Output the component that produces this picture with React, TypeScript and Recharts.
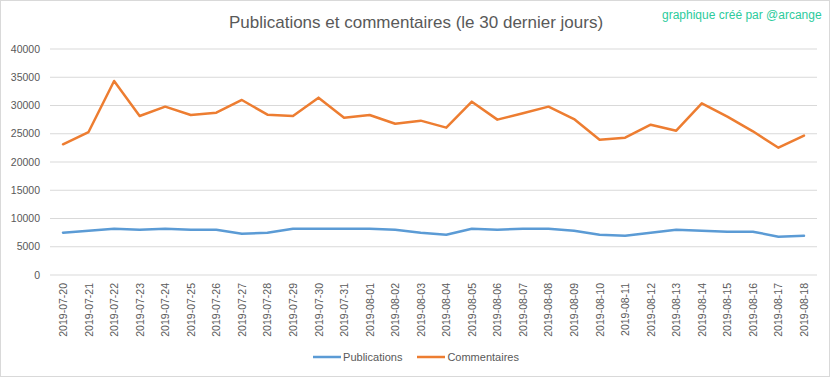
import React from "react";
import { LineChart, Line, XAxis, YAxis, CartesianGrid, Legend } from "recharts";

const dates = [
  "2019-07-20", "2019-07-21", "2019-07-22", "2019-07-23", "2019-07-24", "2019-07-25",
  "2019-07-26", "2019-07-27", "2019-07-28", "2019-07-29", "2019-07-30", "2019-07-31",
  "2019-08-01", "2019-08-02", "2019-08-03", "2019-08-04", "2019-08-05", "2019-08-06",
  "2019-08-07", "2019-08-08", "2019-08-09", "2019-08-10", "2019-08-11", "2019-08-12",
  "2019-08-13", "2019-08-14", "2019-08-15", "2019-08-16", "2019-08-17", "2019-08-18",
];

const publications = [
  7490, 7840, 8200, 8020, 8200, 8020, 8020, 7310, 7490, 8200,
  8200, 8200, 8200, 8020, 7490, 7140, 8200, 8020, 8200, 8200,
  7840, 7140, 6960, 7490, 8020, 7840, 7670, 7670, 6780, 6960,
];

const commentaires = [
  23130, 25300, 34340, 28140, 29800, 28320, 28730, 30975, 28380, 28140,
  31390, 27850, 28320, 26780, 27320, 26080, 30680, 27500, 28620, 29800,
  27610, 23950, 24300, 26600, 25540, 30390, 28020, 25430, 22530, 24660,
];

const seriesNames = ["Publications", "Commentaires"];

const yTicks = [0, 5000, 10000, 15000, 20000, 25000, 30000, 35000, 40000];

const title = "Publications et commentaires (le 30 dernier jours)";
const credit = "graphique créé par @arcange";

const data = dates.map((d, i) => ({
  date: d,
  Publications: publications[i],
  Commentaires: commentaires[i],
}));

const FONT = "'Liberation Sans', Arial, sans-serif";
const TEXT = "#595959";

const DateTick = (props: any) => {
  const { x, y, payload } = props;
  return (
    <text
      x={x}
      y={y}
      transform={`rotate(-90, ${x}, ${y})`}
      textAnchor="end"
      dominantBaseline="central"
      fill={TEXT}
      fontSize={10.5}
      fontFamily={FONT}
    >
      {payload.value}
    </text>
  );
};

const LegendContent = (props: any) => {
  const items = [...(props.payload || [])].sort(
    (a: any, b: any) => seriesNames.indexOf(a.value) - seriesNames.indexOf(b.value)
  );
  return (
    <div style={{ display: "flex", justifyContent: "center", alignItems: "center", gap: 15 }}>
      {items.map((p: any) => (
        <div key={p.value} style={{ display: "flex", alignItems: "center" }}>
          <svg width={28} height={12} style={{ marginRight: 2 }}>
            <line x1={0} y1={6} x2={28} y2={6} stroke={p.color} strokeWidth={2.5} />
          </svg>
          <span style={{ fontFamily: FONT, fontSize: 11, color: TEXT }}>{p.value}</span>
        </div>
      ))}
    </div>
  );
};

export default function App() {
  return (
    <div style={{ position: "absolute", left: 0, top: 0, width: 832, height: 378, background: "#fff" }}>
      <div
        style={{
          position: "absolute",
          left: 0,
          top: 0,
          width: 830,
          height: 377,
          border: "1px solid #D9D9D9",
          boxSizing: "border-box",
        }}
      />
      <LineChart
        width={832}
        height={378}
        data={data}
        margin={{ top: 49, right: 15, left: 0, bottom: 0 }}
      >
        <CartesianGrid horizontal vertical={false} stroke="#D9D9D9" strokeWidth={1} />
        <XAxis
          dataKey="date"
          height={103}
          interval={0}
          axisLine={false}
          tickLine={false}
          padding={{ left: 13, right: 13 }}
          tick={<DateTick />}
        />
        <YAxis
          width={50}
          domain={[0, 40000]}
          ticks={yTicks}
          axisLine={false}
          tickLine={false}
          tickMargin={4}
          tick={{ fill: TEXT, fontSize: 10.5, fontFamily: FONT }}
          interval={0}
        />
        <Legend
          layout="horizontal"
          verticalAlign="middle"
          align="center"
          wrapperStyle={{ top: 351, left: 0, width: 832 }}
          content={<LegendContent />}
        />
        <Line
          type="linear"
          dataKey="Publications"
          stroke="#5B9BD5"
          strokeWidth={2.5}
          dot={false}
          isAnimationActive={false}
          strokeLinejoin="round"
          strokeLinecap="round"
        />
        <Line
          type="linear"
          dataKey="Commentaires"
          stroke="#ED7D31"
          strokeWidth={2.5}
          dot={false}
          isAnimationActive={false}
          strokeLinejoin="round"
          strokeLinecap="round"
        />
      </LineChart>
      <svg
        width={832}
        height={40}
        style={{ position: "absolute", left: 0, top: 0, pointerEvents: "none" }}
      >
        <text x={416} y={28} textAnchor="middle" fill={TEXT} fontSize={17} fontFamily={FONT}>
          {title}
        </text>
        <text x={662} y={19} textAnchor="start" fill="#2CCB9C" fontSize={12} fontFamily={FONT}>
          {credit}
        </text>
      </svg>
    </div>
  );
}
